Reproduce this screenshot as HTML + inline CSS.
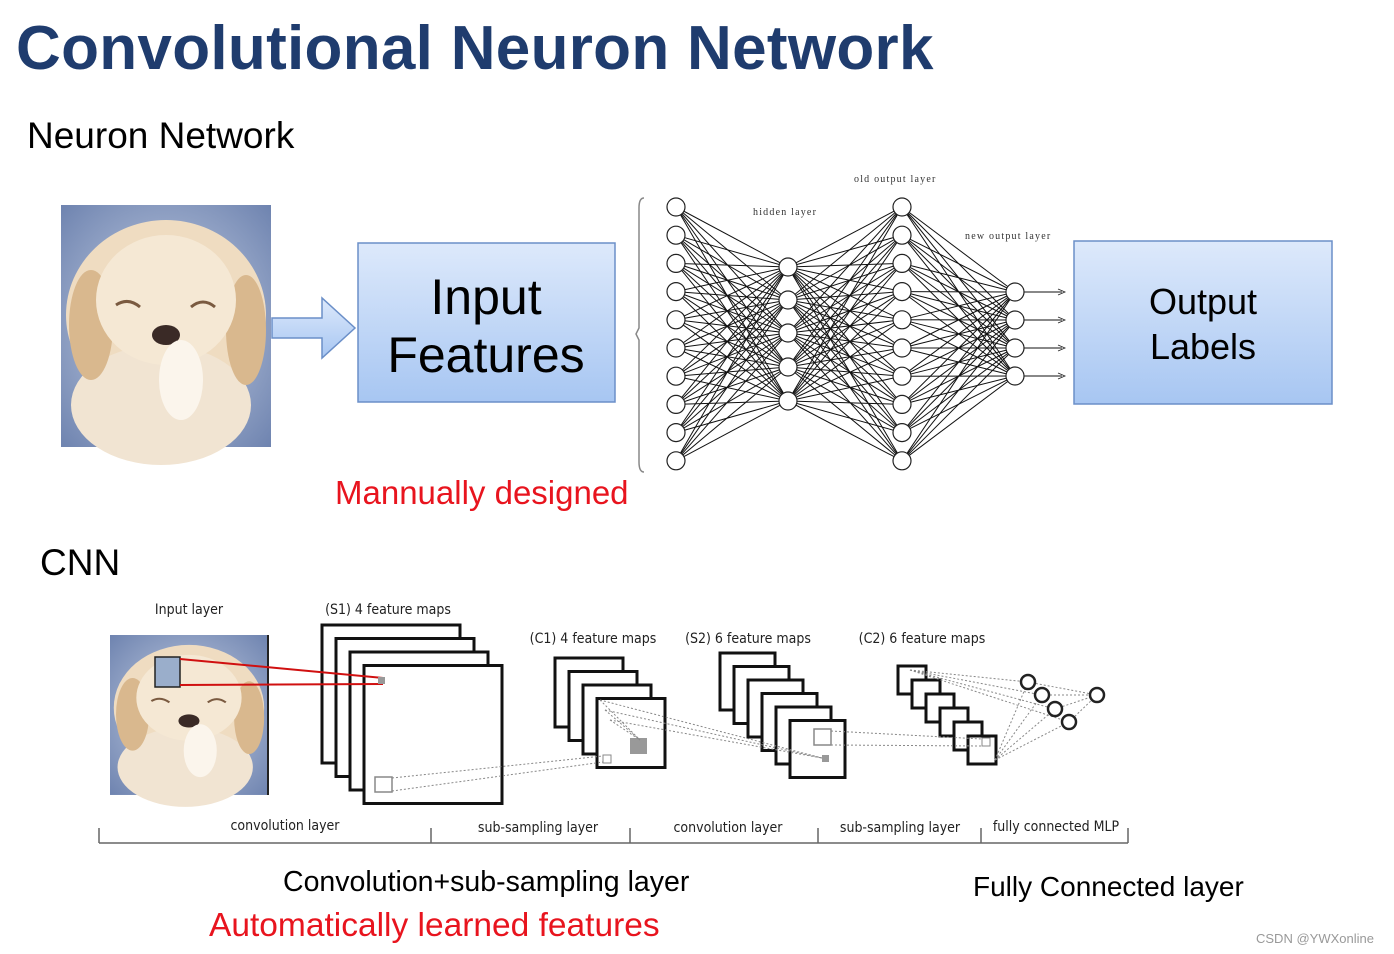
<!DOCTYPE html>
<html><head><meta charset="utf-8"><style>
body{margin:0;width:1394px;height:954px;background:#fff;overflow:hidden;position:relative;font-family:"Liberation Sans",sans-serif}
.t{position:absolute;white-space:nowrap}
</style></head><body>
<div class="t" style="left:16px;top:13px;font-size:62px;font-weight:bold;color:#1f3c6e;letter-spacing:0.3px">Convolutional Neuron Network</div>
<div class="t" style="left:27px;top:115px;font-size:37px">Neuron Network</div>
<div class="t" style="left:40px;top:542px;font-size:37px">CNN</div>
<div class="t" style="left:335px;top:474px;font-size:33px;color:#e8141e">Mannually designed</div>
<div class="t" style="left:283px;top:866px;font-size:28.5px">Convolution+sub-sampling layer</div>
<div class="t" style="left:209px;top:907px;font-size:33.5px;color:#e8141e">Automatically learned features</div>
<div class="t" style="left:973px;top:871px;font-size:28px">Fully Connected layer</div>
<div class="t" style="left:1256px;top:931px;font-size:13px;color:#999">CSDN @YWXonline</div>
<svg id="s" width="1394" height="954" style="position:absolute;left:0;top:0">
<defs>
<linearGradient id="bx" x1="0" y1="0" x2="0" y2="1"><stop offset="0" stop-color="#dde9fb"/><stop offset="1" stop-color="#a7c6f2"/></linearGradient>
<radialGradient id="bg" cx="0.5" cy="0.5" r="0.7"><stop offset="0" stop-color="#c9d3e6"/><stop offset="1" stop-color="#6f84b0"/></radialGradient>
<g id="dog">
<rect x="0" y="0" width="210" height="242" fill="url(#bg)"/>
<ellipse cx="105" cy="110" rx="100" ry="95" fill="#efdcc1"/>
<ellipse cx="100" cy="200" rx="90" ry="60" fill="#f1e4d2"/>
<ellipse cx="30" cy="120" rx="22" ry="55" fill="#d9b88e"/>
<ellipse cx="185" cy="125" rx="20" ry="55" fill="#d9b88e"/>
<ellipse cx="105" cy="95" rx="70" ry="65" fill="#f5e8d4"/>
<path d="M55 100 q12 -8 24 2 M130 102 q12 -10 24 0" stroke="#7a5a40" stroke-width="3" fill="none"/>
<ellipse cx="105" cy="130" rx="14" ry="10" fill="#3a2a26"/>
<ellipse cx="120" cy="175" rx="22" ry="40" fill="#fbf5ec"/>
</g>
</defs>
<use href="#dog" transform="translate(61,205)"/>
<path d="M272 318 H322 V298 L355 328 L322 358 V338 H272 Z" fill="url(#bx)" stroke="#6b8fc8" stroke-width="1.5"/>
<rect x="358" y="243" width="257" height="159" fill="url(#bx)" stroke="#6b8fc8" stroke-width="1.5"/>
<text x="486" y="314" font-size="50" text-anchor="middle" font-family="Liberation Sans">Input</text>
<text x="486" y="372" font-size="50" text-anchor="middle" font-family="Liberation Sans">Features</text>
<rect x="1074" y="241" width="258" height="163" fill="url(#bx)" stroke="#6b8fc8" stroke-width="1.5"/>
<text x="1203" y="314" font-size="36" text-anchor="middle" font-family="Liberation Sans">Output</text>
<text x="1203" y="359" font-size="36" text-anchor="middle" font-family="Liberation Sans">Labels</text>
<path d="M644 198 Q639 198 639 208 V328 L636 334 L639 340 V462 Q639 472 644 472" stroke="#888" fill="none" stroke-width="1.5"/>
<g font-family="Liberation Serif" font-size="10" fill="#333" letter-spacing="1.2">
<text x="854" y="182">old output layer</text><text x="753" y="215">hidden layer</text><text x="965" y="239">new output layer</text></g>
<g id="nn"></g>
<use href="#dog" transform="translate(110,635) scale(0.752,0.661)"/>
<line x1="268" y1="635" x2="268" y2="795" stroke="#222" stroke-width="2"/>
<g id="cnn"></g>
</svg>
<script>
var h="";
function L(a,b,c,d,e){h+='<line x1="'+a+'" y1="'+b+'" x2="'+c+'" y2="'+d+'" '+(e||'stroke="#111" stroke-width="1"')+'/>';}
var A=[],B=[],C=[],D=[];
for(var i=0;i<10;i++){A.push(207+i*28.2);C.push(207+i*28.2);}
B=[267,300,333,367,401];D=[292,320,348,376];
A.forEach(function(a){B.forEach(function(b){L(676,a,788,b)})});
B.forEach(function(b){C.forEach(function(c){L(788,b,902,c)})});
C.forEach(function(c){D.forEach(function(d){L(902,c,1015,d)})});
D.forEach(function(d){L(1015,d,1062,d);h+='<path d="M1058 '+(d-3)+' L1065 '+d+' L1058 '+(d+3)+'" stroke="#222" fill="none" stroke-width="0.8"/>';});
function Ci(x,y,r,w){h+='<circle cx="'+x+'" cy="'+y+'" r="'+r+'" fill="#fff" stroke="#222" stroke-width="'+(w||1.2)+'"/>';}
A.forEach(function(a){Ci(676,a,9)});B.forEach(function(b){Ci(788,b,9)});C.forEach(function(c){Ci(902,c,9)});D.forEach(function(d){Ci(1015,d,9)});
document.getElementById('nn').innerHTML=h;h='';
function stack(x,y,w,hh,n,dx,dy){for(var i=0;i<n;i++)h+='<rect x="'+(x+i*dx)+'" y="'+(y+i*dy)+'" width="'+w+'" height="'+hh+'" fill="#fff" stroke="#111" stroke-width="3"/>';}
var dot='stroke="#888" stroke-width="1" stroke-dasharray="2,2"';
stack(322,625,138,138,4,14,13.5);
stack(555,658,68,69,4,14,13.5);
stack(720,653,55,57,6,14,13.5);
stack(898,666,28,28,6,14,14);
h+='<rect x="155" y="657" width="25" height="30" fill="#9aaecb" stroke="#222" stroke-width="1.5"/>';
L(180,659,383,678,'stroke="#d01010" stroke-width="2"');L(180,685,383,684,'stroke="#d01010" stroke-width="2"');
h+='<rect x="378" y="677" width="7" height="7" fill="#999"/>';
h+='<rect x="375" y="777" width="17" height="15" fill="#fff" stroke="#888" stroke-width="1.5"/>';
L(392,778,603,756,dot);L(392,791,603,762,dot);
h+='<rect x="603" y="755" width="8" height="8" fill="#fff" stroke="#888"/>';
h+='<rect x="630" y="738" width="17" height="16" fill="#999"/>';
[[600,700],[605,710],[610,720]].forEach(function(p){L(p[0],p[1],822,758,dot);L(p[0],p[1],640,740,dot)});
h+='<rect x="822" y="755" width="7" height="7" fill="#999"/>';
h+='<rect x="814" y="729" width="17" height="16" fill="#fff" stroke="#888" stroke-width="1.5"/>';
L(831,731,982,739,dot);L(831,745,982,746,dot);
h+='<rect x="982" y="738" width="8" height="8" fill="#fff" stroke="#888"/>';
[[1028,682],[1042,695],[1055,709],[1069,722]].forEach(function(p){L(910,670,p[0],p[1],dot);L(995,760,p[0],p[1],dot);L(p[0],p[1],1097,695,dot)});
[[1028,682],[1042,695],[1055,709],[1069,722],[1097,695]].forEach(function(p){Ci(p[0],p[1],7,2.5)});
L(99,843,1128,843,'stroke="#666" stroke-width="1.5"');
[99,431,630,818,981,1128].forEach(function(x){L(x,828,x,843,'stroke="#666" stroke-width="1.5"')});
var T=[["Input layer",189,614],["(S1) 4 feature maps",388,614],["(C1) 4 feature maps",593,643],["(S2) 6 feature maps",748,643],["(C2) 6 feature maps",922,643],
["convolution layer",285,830],["sub-sampling layer",538,832],["convolution layer",728,832],["sub-sampling layer",900,832],["fully connected MLP",1056,831]];
T.forEach(function(t){h+='<text x="'+t[1]+'" y="'+t[2]+'" font-size="14" text-anchor="middle" font-family="DejaVu Sans Condensed, Liberation Sans Narrow, sans-serif" fill="#222">'+t[0]+'</text>'});
document.getElementById('cnn').innerHTML=h;
</script>
</body></html>
